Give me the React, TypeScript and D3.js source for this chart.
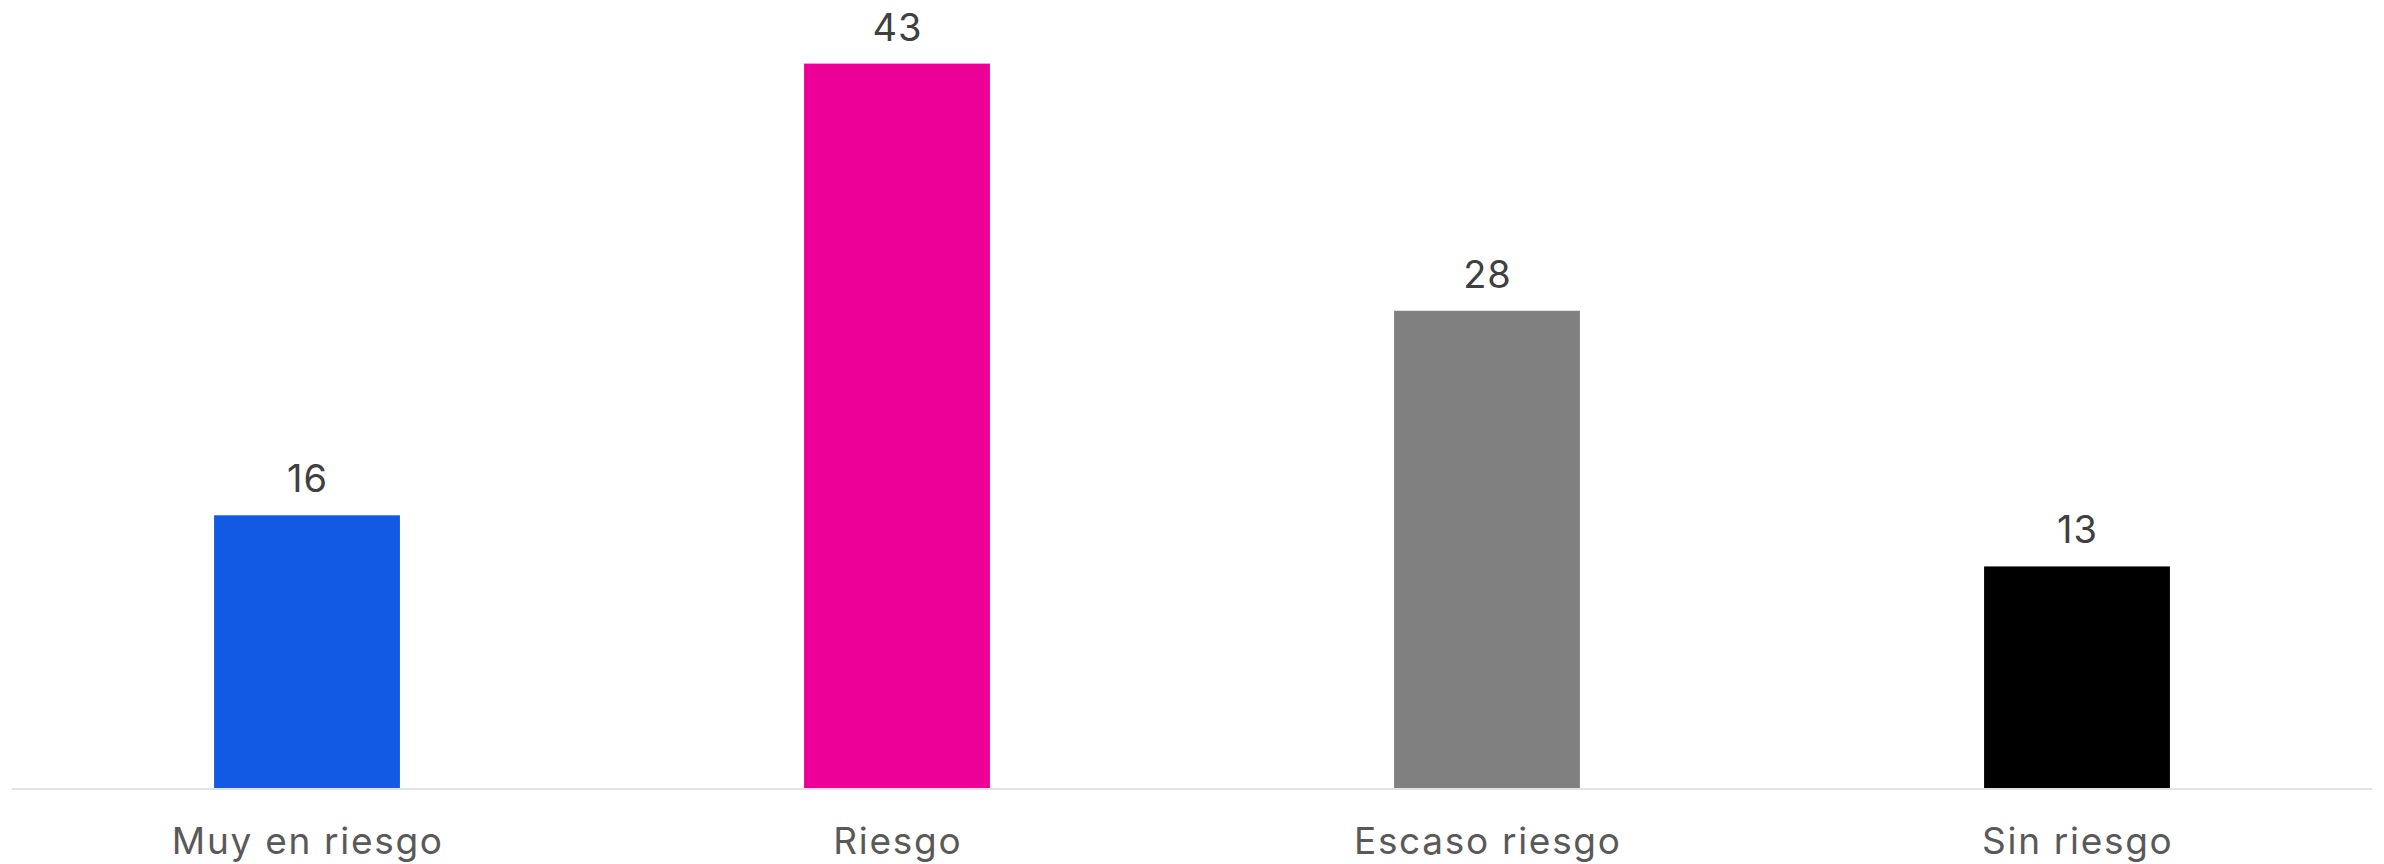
import React, {useRef, useEffect} from 'react';
import * as d3 from 'd3';

const categories = ['Muy en riesgo', 'Riesgo', 'Escaso riesgo', 'Sin riesgo'];
const values = [16, 42.5, 28, 13];
const colors = ['#125AE3', '#EC0097', '#808080', '#000000'];

const App = () => {
  const svgRef = useRef<SVGSVGElement>(null);

  useEffect(() => {
    const w = 2384, h = 864;
    const svg = d3.select(svgRef.current)
      .attr('width', w)
      .attr('height', h)
      .style('position', 'absolute')
      .style('left', 0)
      .style('top', 0)
      .style('background', '#fff');
    svg.selectAll('*').remove();

    const x = d3.scaleBand<string>()
      .domain(categories)
      .range([12, 2372])
      .paddingInner(0.685)
      .paddingOuter(0.3425);
    const y = d3.scaleLinear()
      .domain([0, 45])
      .range([788, 21]);

    // bars
    svg.selectAll('.bar')
      .data(values)
      .join('rect')
      .attr('class', 'bar')
      .attr('x', (d, i) => x(categories[i]) as number)
      .attr('y', d => y(d))
      .attr('width', x.bandwidth())
      .attr('height', d => y(0) - y(d))
      .attr('fill', (d, i) => colors[i]);

    // baseline
    svg.append('line')
      .attr('x1', 12)
      .attr('x2', 2372)
      .attr('y1', y(0) + 1)
      .attr('y2', y(0) + 1)
      .attr('stroke', '#d9d9d9')
      .attr('stroke-width', 1.5);

    // value labels
    svg.selectAll('.val')
      .data(values)
      .join('text')
      .attr('class', 'val')
      .attr('x', (d, i) => (x(categories[i]) as number) + x.bandwidth() / 2 + 0.5)
      .attr('y', d => y(d) - 23)
      .attr('text-anchor', 'middle')
      .attr('font-family', 'Inter, sans-serif')
      .attr('font-size', 38)
      .attr('letter-spacing', 1)
      .attr('fill', '#404040')
      .text(d => Math.round(d));

    // category labels
    svg.selectAll('.cat')
      .data(categories)
      .join('text')
      .attr('class', 'cat')
      .attr('x', d => (x(d) as number) + x.bandwidth() / 2 + 0.8)
      .attr('y', 854)
      .attr('text-anchor', 'middle')
      .attr('font-family', 'Inter, sans-serif')
      .attr('font-size', 37)
      .attr('letter-spacing', 1.7)
      .attr('fill', '#595959')
      .text(d => d);
  }, []);

  return (
    <div>
      <svg ref={svgRef}></svg>
    </div>
  );
};

export default App;
